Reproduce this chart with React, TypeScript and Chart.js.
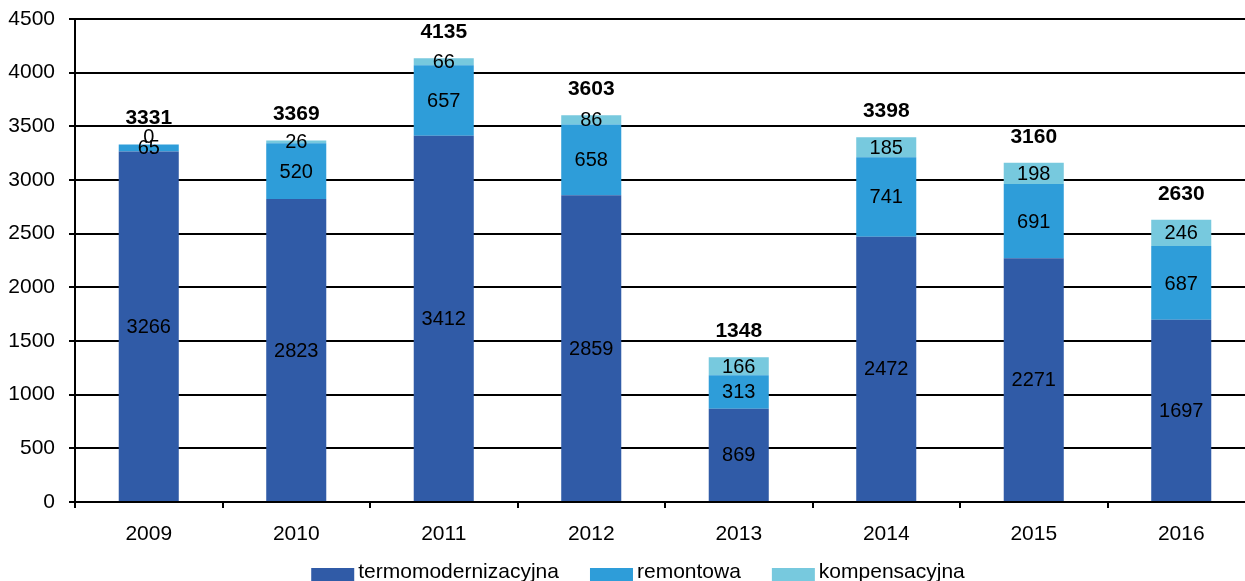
import React, { useEffect, useRef } from "react";
import { Chart, registerables } from "chart.js";

Chart.register(...registerables);

const years = ["2009", "2010", "2011", "2012", "2013", "2014", "2015", "2016"];
const termomodernizacyjna = [3266, 2823, 3412, 2859, 869, 2472, 2271, 1697];
const remontowa = [65, 520, 657, 658, 313, 741, 691, 687];
const kompensacyjna = [0, 26, 66, 86, 166, 185, 198, 246];
const seriesNames = ["termomodernizacyjna", "remontowa", "kompensacyjna"];
const seriesColors = ["#305BA7", "#2E9DD9", "#77C9DE"];
const yMin = 0;
const yMax = 4500;
const yStep = 500;

const FONT = '"Liberation Sans", Arial, sans-serif';

const valueLabelsPlugin = {
  id: "valueLabels",
  afterDatasetsDraw(chart: any) {
    const ctx = chart.ctx;
    const yScale = chart.scales.y;
    ctx.save();
    ctx.fillStyle = "#000";
    ctx.textAlign = "center";
    ctx.textBaseline = "middle";
    ctx.font = `20px ${FONT}`;
    chart.data.datasets.forEach((ds: any, i: number) => {
      const meta = chart.getDatasetMeta(i);
      meta.data.forEach((el: any, j: number) => {
        const v = ds.data[j];
        const p = el.getProps(["x", "y", "base"], true);
        let cy = (p.y + p.base) / 2 + 1;
        if (v === 0) cy -= 8;
        ctx.fillText(String(v), p.x, cy);
      });
    });
    ctx.font = `bold 21px ${FONT}`;
    const lastMeta = chart.getDatasetMeta(chart.data.datasets.length - 1);
    lastMeta.data.forEach((el: any, j: number) => {
      const total = chart.data.datasets.reduce((s: number, ds: any) => s + ds.data[j], 0);
      ctx.fillText(String(total), el.x, yScale.getPixelForValue(total) - 26);
    });
    ctx.restore();
  },
};

const legendPlugin = {
  id: "customLegend",
  afterDraw(chart: any) {
    const ctx = chart.ctx;
    ctx.save();
    ctx.font = `21px ${FONT}`;
    const boxW = 43;
    const boxH = 14;
    const gap = 4;
    const itemGap = 31;
    const items = chart.data.datasets.map((ds: any) => ({
      text: ds.label,
      color: ds.backgroundColor,
      w: ctx.measureText(ds.label).width,
    }));
    const total =
      items.reduce((s: number, it: any) => s + boxW + gap + it.w, 0) + itemGap * (items.length - 1);
    let x = chart.width / 2 - total / 2;
    const baseline = chart.height - 3;
    const boxTop = chart.height - 13;
    ctx.textAlign = "left";
    ctx.textBaseline = "alphabetic";
    items.forEach((it: any) => {
      ctx.fillStyle = it.color;
      ctx.fillRect(x, boxTop, boxW, boxH);
      ctx.fillStyle = "#000";
      ctx.fillText(it.text, x + boxW + gap, baseline);
      x += boxW + gap + it.w + itemGap;
    });
    ctx.restore();
  },
};

export default function App() {
  const ref = useRef<HTMLCanvasElement>(null);

  useEffect(() => {
    const seriesData = [termomodernizacyjna, remontowa, kompensacyjna];
    const chart = new Chart(ref.current as HTMLCanvasElement, {
      type: "bar",
      data: {
        labels: years,
        datasets: seriesData.map((d, i) => ({
          label: seriesNames[i],
          data: d,
          backgroundColor: seriesColors[i],
          borderWidth: 0,
          categoryPercentage: 1,
          barPercentage: 0.407,
        })),
      },
      options: {
        animation: false,
        responsive: false,
        devicePixelRatio: 1,
        layout: { padding: { left: 0, right: 21, top: 19, bottom: 34 } },
        plugins: {
          legend: { display: false },
          tooltip: { enabled: false },
        },
        scales: {
          x: {
            stacked: true,
            grid: {
              drawOnChartArea: false,
              drawTicks: true,
              tickLength: 6,
              color: "#000",
              lineWidth: 2,
              offset: true,
            },
            border: { color: "#000", width: 2 },
            ticks: { font: { size: 21, family: FONT }, color: "#000", padding: 14 },
            afterFit(s: any) {
              s.height = 45;
              s.paddingLeft = 0;
              s.paddingRight = 0;
            },
          },
          y: {
            stacked: true,
            min: yMin,
            max: yMax,
            ticks: {
              stepSize: yStep,
              font: { size: 21, family: FONT },
              color: "#000",
              padding: 14,
              callback: (v: any) => String(v),
            },
            grid: { color: "#000", lineWidth: 2, tickLength: 6 },
            border: { color: "#000", width: 2 },
            afterFit(s: any) {
              s.width = 75;
              s.paddingTop = 0;
              s.paddingBottom = 0;
            },
          },
        },
      },
      plugins: [valueLabelsPlugin, legendPlugin],
    } as any);
    return () => chart.destroy();
  }, []);

  return (
    <div
      style={{
        position: "fixed",
        left: 0,
        top: 0,
        width: 1245,
        height: 581,
        overflow: "hidden",
        background: "#fff",
      }}
    >
      <div style={{ width: 1276, height: 581 }}>
        <canvas ref={ref} width={1276} height={581} style={{ display: "block", width: 1276, height: 581 }} />
      </div>
    </div>
  );
}
